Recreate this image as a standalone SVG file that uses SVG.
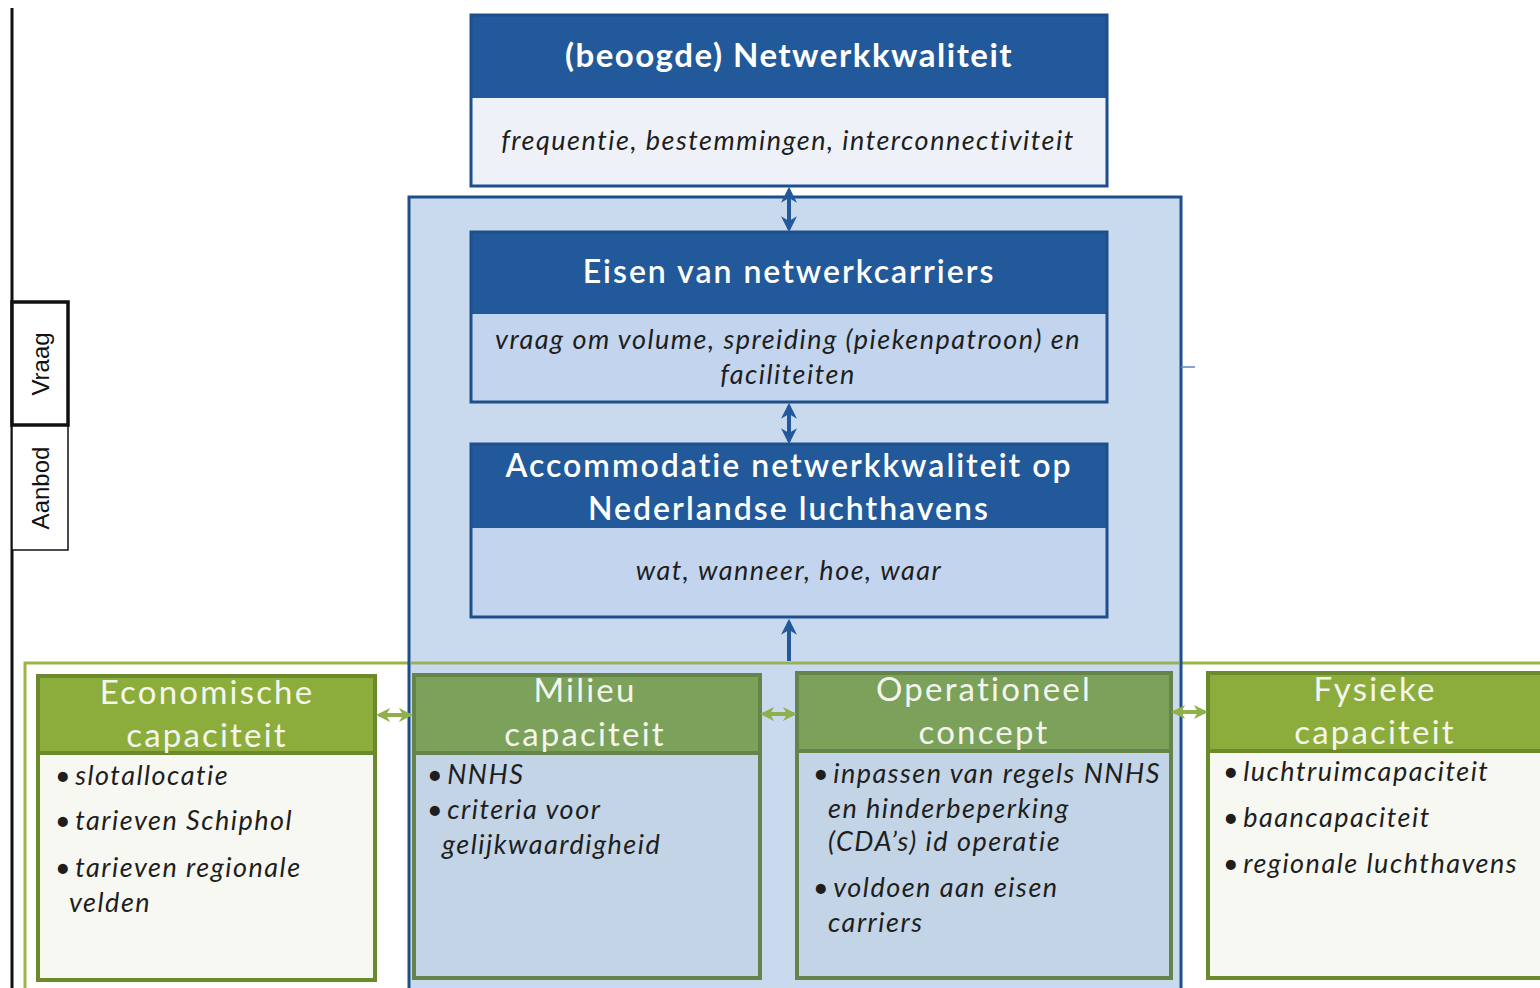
<svg xmlns="http://www.w3.org/2000/svg" width="1540" height="988" viewBox="0 0 1540 988">
  <defs>
    <style>
      .hdr { fill: #22599a; }
      .blueframe { fill: none; stroke: #1c4f8c; stroke-width: 3; }
      .ttl { font-family: Lato, "Open Sans", sans-serif; fill: #ffffff; text-anchor: middle; font-size: 32px; font-weight: 600; letter-spacing: 2px; }
      .ttlb { font-weight: bold; font-size: 33px; letter-spacing: 1.5px; }
      .body { font-family: Lato, "Open Sans", sans-serif; font-style: italic; fill: #1e1e1e; font-size: 27px; letter-spacing: 1.5px; }
      .mid { text-anchor: middle; }
      .gtxt { font-family: Lato, "Open Sans", sans-serif; fill: #f4f6ee; text-anchor: middle; font-size: 33px; letter-spacing: 2.2px; }
      .gframe { stroke: #6a8a2c; stroke-width: 4; }
      .side { font-family: "Liberation Sans", Arial, sans-serif; font-size: 24px; fill: #111; text-anchor: middle; }
      .conn { stroke: #23599a; stroke-width: 4; fill: none; }
      .gconn { stroke: #8fb04a; stroke-width: 4; fill: none; }
    </style>
    <marker id="bh" viewBox="0 0 10 10" refX="8" refY="5" markerWidth="4" markerHeight="4" orient="auto-start-reverse">
      <path d="M0,0 L10,5 L0,10 L3,5 z" fill="#23599a"/>
    </marker>
    <marker id="gh" viewBox="0 0 10 10" refX="8" refY="5" markerWidth="3.5" markerHeight="3.5" orient="auto-start-reverse">
      <path d="M0,0 L10,5 L0,10 L3,5 z" fill="#8fb04a"/>
    </marker>
  </defs>

  <rect x="0" y="0" width="1540" height="988" fill="#ffffff"/>

  <!-- side axis: Vraag / Aanbod -->
  <g id="axis">
    <line x1="12" y1="8" x2="12" y2="988" stroke="#111" stroke-width="3"/>
    <rect x="12" y="425" width="56" height="125" fill="#fff" stroke="#111" stroke-width="1.5"/>
    <rect x="12" y="302" width="56" height="123" fill="#fff" stroke="#111" stroke-width="3.5"/>
    <text class="side" transform="translate(49,364) rotate(-90)">Vraag</text>
    <text class="side" transform="translate(49,488) rotate(-90)">Aanbod</text>
  </g>

  <!-- green capacity band -->
  <g id="capaciteit-band">
    <rect x="25" y="663" width="1530" height="340" fill="none" stroke="#9bb545" stroke-width="3"/>
  </g>

  <!-- Economische capaciteit -->
  <g id="economische">
    <rect x="38" y="676" width="337" height="304" fill="#f8f8f2" class="gframe"/>
    <rect x="38" y="676" width="337" height="77" fill="#8cad3c" class="gframe"/>
    <text class="gtxt" x="207" y="704">Economische</text>
    <text class="gtxt" x="207" y="747">capaciteit</text>
    <text class="body">
      <tspan x="55" y="785">•<tspan dx="3">slotallocatie</tspan></tspan>
      <tspan x="55" y="830">•<tspan dx="3">tarieven Schiphol</tspan></tspan>
      <tspan x="55" y="877">•<tspan dx="3">tarieven regionale</tspan></tspan>
      <tspan x="69" y="912">velden</tspan>
    </text>
  </g>

  <!-- Fysieke capaciteit -->
  <g id="fysieke">
    <rect x="1208" y="673" width="345" height="305" fill="#f8f8f2" class="gframe"/>
    <rect x="1208" y="673" width="345" height="78" fill="#8cad3c" class="gframe"/>
    <text class="gtxt" x="1375" y="701">Fysieke</text>
    <text class="gtxt" x="1375" y="744">capaciteit</text>
    <text class="body">
      <tspan x="1223" y="781">•<tspan dx="3">luchtruimcapaciteit</tspan></tspan>
      <tspan x="1223" y="827">•<tspan dx="3">baancapaciteit</tspan></tspan>
      <tspan x="1223" y="873">•<tspan dx="3">regionale luchthavens</tspan></tspan>
    </text>
  </g>

  <!-- light-blue accommodation frame -->
  <g id="frame">
    <rect x="409" y="197" width="772" height="800" fill="#c9daee" stroke="#1c4f8c" stroke-width="3"/>
    <line x1="1181" y1="367" x2="1195" y2="367" stroke="#5b86bf" stroke-width="1.5"/>
    <line x1="411" y1="663" x2="1179" y2="663" stroke="#98b25c" stroke-width="3"/>
  </g>

  <!-- Milieu capaciteit -->
  <g id="milieu">
    <rect x="414" y="675" width="346" height="303" fill="#c3d4e6" stroke="#65844a" stroke-width="4"/>
    <rect x="414" y="675" width="346" height="78" fill="#7ba15a" stroke="#65844a" stroke-width="4"/>
    <text class="gtxt" x="585" y="702" fill="#e4ecdf">Milieu</text>
    <text class="gtxt" x="585" y="746">capaciteit</text>
    <text class="body">
      <tspan x="427" y="784">•<tspan dx="3">NNHS</tspan></tspan>
      <tspan x="427" y="819">•<tspan dx="3">criteria voor</tspan></tspan>
      <tspan x="442" y="854">gelijkwaardigheid</tspan>
    </text>
  </g>

  <!-- Operationeel concept -->
  <g id="operationeel">
    <rect x="797" y="673" width="374" height="305" fill="#c3d4e6" stroke="#65844a" stroke-width="4"/>
    <rect x="797" y="673" width="374" height="78" fill="#7ba15a" stroke="#65844a" stroke-width="4"/>
    <text class="gtxt" x="984" y="701">Operationeel</text>
    <text class="gtxt" x="984" y="744">concept</text>
    <text class="body">
      <tspan x="813" y="783">•<tspan dx="3">inpassen van regels NNHS</tspan></tspan>
      <tspan x="828" y="818">en hinderbeperking</tspan>
      <tspan x="828" y="851">(CDA’s) id operatie</tspan>
      <tspan x="813" y="897">•<tspan dx="3">voldoen aan eisen</tspan></tspan>
      <tspan x="828" y="932">carriers</tspan>
    </text>
  </g>

  <!-- (beoogde) Netwerkkwaliteit -->
  <g id="netwerkkwaliteit">
    <rect x="471" y="15" width="636" height="171" fill="#eef2f8"/>
    <rect x="471" y="15" width="636" height="83" class="hdr"/>
    <rect x="471" y="15" width="636" height="171" class="blueframe"/>
    <text class="ttl ttlb" x="789" y="67">(beoogde) Netwerkkwaliteit</text>
    <text class="body mid" x="788" y="150">frequentie, bestemmingen, interconnectiviteit</text>
  </g>

  <!-- Eisen van netwerkcarriers -->
  <g id="eisen">
    <rect x="471" y="232" width="636" height="170" fill="#c3d5ee"/>
    <rect x="471" y="232" width="636" height="82" class="hdr"/>
    <rect x="471" y="232" width="636" height="170" class="blueframe"/>
    <text class="ttl" x="789" y="283">Eisen van netwerkcarriers</text>
    <text class="body mid"><tspan x="788" y="349">vraag om volume, spreiding (piekenpatroon) en</tspan><tspan x="788" y="384">faciliteiten</tspan></text>
  </g>

  <!-- Accommodatie netwerkkwaliteit -->
  <g id="accommodatie">
    <rect x="471" y="444" width="636" height="173" fill="#c3d5ee"/>
    <rect x="471" y="444" width="636" height="84" class="hdr"/>
    <rect x="471" y="444" width="636" height="173" class="blueframe"/>
    <text class="ttl" x="789" y="477">Accommodatie netwerkkwaliteit op</text>
    <text class="ttl" x="789" y="520" letter-spacing="2.4">Nederlandse luchthavens</text>
    <text class="body mid" x="789" y="580" letter-spacing="1.8">wat, wanneer, hoe, waar</text>
  </g>

  <!-- connectors -->
  <g id="connectors">
    <line class="conn" x1="789" y1="190" x2="789" y2="229" marker-start="url(#bh)" marker-end="url(#bh)"/>
    <line class="conn" x1="789" y1="406" x2="789" y2="441" marker-start="url(#bh)" marker-end="url(#bh)"/>
    <line class="conn" x1="789" y1="661" x2="789" y2="622" marker-end="url(#bh)"/>
    <line class="gconn" x1="379" y1="715" x2="410" y2="715" marker-start="url(#gh)" marker-end="url(#gh)"/>
    <line class="gconn" x1="763" y1="714" x2="794" y2="714" marker-start="url(#gh)" marker-end="url(#gh)"/>
    <line class="gconn" x1="1174" y1="712" x2="1205" y2="712" marker-start="url(#gh)" marker-end="url(#gh)"/>
  </g>
</svg>
